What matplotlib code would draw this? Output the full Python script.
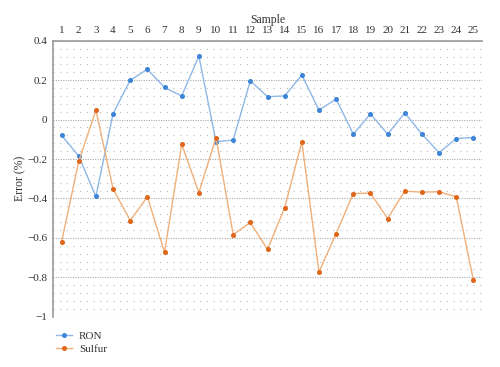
import matplotlib
matplotlib.use("Agg")
import matplotlib.pyplot as plt
from matplotlib.ticker import MultipleLocator

samples = list(range(1, 26))
ron = [-0.08, -0.185, -0.39, 0.03, 0.20, 0.255, 0.163, 0.12, 0.322, -0.112, -0.104,
       0.197, 0.116, 0.12, 0.226, 0.048, 0.104, -0.074, 0.029, -0.074, 0.034,
       -0.074, -0.168, -0.096, -0.091]
sulfur = [-0.62, -0.212, 0.048, -0.351, -0.512, -0.392, -0.673, -0.125, -0.37, -0.092,
          -0.583, -0.522, -0.659, -0.447, -0.113, -0.773, -0.578, -0.375, -0.373,
          -0.502, -0.363, -0.368, -0.366, -0.392, -0.815]

plt.rcParams['font.family'] = ['Liberation Serif', 'DejaVu Serif']

fig = plt.figure(figsize=(5.0, 3.67), dpi=100)
ax = fig.add_axes([0.106, 0.137, 0.858, 0.752])

ax.plot(samples, ron, color='#8fb8e8', lw=1.0, marker='o', ms=2.6,
        mfc='#3d85d8', mec='#3d85d8', label='RON', zorder=3)
ax.plot(samples, sulfur, color='#f0b07a', lw=1.0, marker='o', ms=2.6,
        mfc='#e0661a', mec='#e0661a', label='Sulfur', zorder=3)

ax.set_xlim(0.5, 25.5)
ax.set_ylim(-1, 0.4)
ax.xaxis.tick_top()
ax.xaxis.set_label_position('top')
ax.set_xticks(samples)
ax.set_xticklabels([str(s) for s in samples])
ax.set_xlabel('Sample', fontsize=8.5, color='#333333', labelpad=2.5)
ax.set_ylabel('Error (%)', fontsize=8.5, color='#333333', labelpad=1)
ax.yaxis.set_major_locator(MultipleLocator(0.2))
ax.yaxis.set_minor_locator(MultipleLocator(0.04))
ax.set_yticks([0.4, 0.2, 0, -0.2, -0.4, -0.6, -0.8, -1])
ax.set_yticklabels(['0.4', '0.2', '0', '−0.2', '−0.4', '−0.6', '−0.8', '−1'])
ax.tick_params(axis='both', which='both', length=0, labelsize=8, colors='#333333', pad=4)

ax.grid(True, which='major', axis='y', color='#aaaaaa', lw=0.8, ls=(0, (1, 1.2)))
ax.grid(True, which='minor', axis='y', color='#bbbbbb', lw=0.8, ls=(0, (1, 5)))

for s in ['right', 'bottom']:
    ax.spines[s].set_visible(False)
ax.spines['top'].set_color('#999999')
ax.spines['top'].set_linewidth(1.2)
ax.spines['left'].set_color('#999999')
ax.spines['left'].set_linewidth(1.2)

ax.legend(loc='upper left', bbox_to_anchor=(-0.012, -0.025), frameon=False,
          fontsize=8, handlelength=1.5, handletextpad=0.6, labelspacing=0.25,
          borderpad=0.2, labelcolor='#333333')

fig.savefig('out.png', dpi=100)
